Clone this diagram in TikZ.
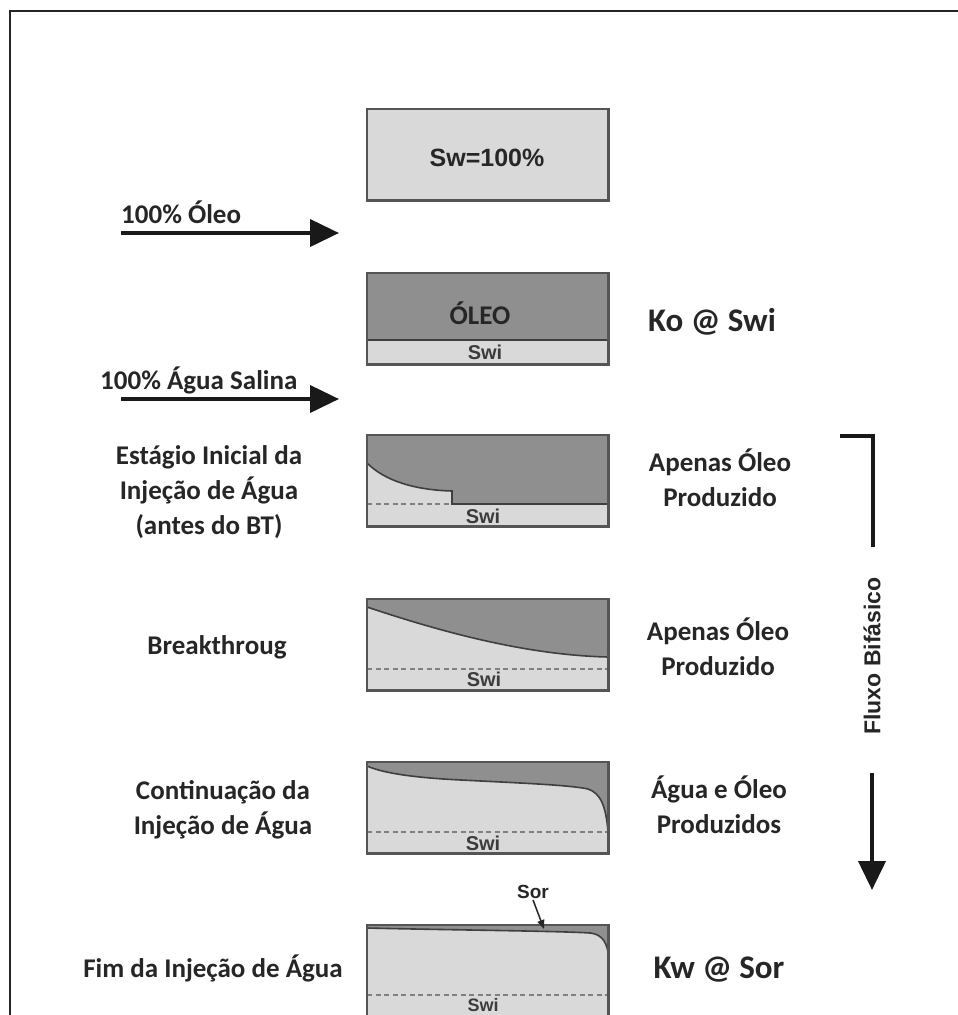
\documentclass[tikz,border=0pt]{standalone}
\usepackage{fontspec}
\setmainfont{Carlito}
\newfontfamily\arialf{Liberation Sans}
\usetikzlibrary{arrows.meta}
\definecolor{lightfill}{HTML}{D9D9D9}
\definecolor{oilfill}{HTML}{8F8F8F}
\definecolor{edgegray}{HTML}{555555}
\definecolor{ifacecol}{HTML}{3F3F3F}
\definecolor{txt}{HTML}{262626}
\begin{document}
\begin{tikzpicture}[x=1pt,y=-1pt,
  corebox/.style={fill=lightfill,draw=none,minimum width=241pt,minimum height=91pt,inner sep=0pt,anchor=north west},
  border/.style={draw=edgegray,line width=2.5pt},
  iface/.style={draw=ifacecol,line width=1.6pt},
  oil/.style={fill=oilfill},
  swidash/.style={draw=black!50,line width=2pt,dash pattern=on 5pt off 3.5pt},
  lab/.style={font=\fontsize{27}{35}\selectfont\bfseries,text=txt,align=center,inner sep=0pt},
  big/.style={font=\fontsize{33}{40}\selectfont\bfseries,text=txt,inner sep=0pt},
  swi/.style={font=\arialf\fontsize{20}{22}\selectfont\bfseries,text=txt!90,inner sep=0pt},
  flow/.style={-{Triangle[length=29pt,width=27pt]},line width=4pt,draw=black!90},
]
\clip (0,0) rectangle (958,1015);
\useasboundingbox (0,0) rectangle (958,1015);
\fill[white] (0,0) rectangle (958,1015);
% frame
\coordinate (fr1) at (958,11);
\coordinate (fr2) at (10,11);
\coordinate (fr3) at (10,1015);
\draw[line width=2.2pt,draw=black!85] (fr1) -- (fr2) -- (fr3);

% ---- box 1
\node[corebox] (b1) at (367,109) {};
\draw[border] (b1.north west) rectangle (b1.south east);
\node[font=\arialf\fontsize{25}{30}\selectfont\bfseries,text=txt,inner sep=0pt] (t1) at (487,158) {Sw=100\%};

% arrow 1
\coordinate (a1s) at (121,233);
\coordinate (a1e) at (339,233);
\draw[flow] (a1s) -- (a1e);
\node[lab,anchor=west] (l1) at (121,212) {100\% Óleo};

% ---- box 2
\node[corebox] (b2) at (367,273) {};
\fill[oil] (367,273) rectangle (608,340);
\draw[iface] (367,340) -- (608,340);
\draw[border] (b2.north west) rectangle (b2.south east);
\node[lab] (t2) at (480,313) {ÓLEO};
\node[swi] (s2) at (485,352) {Swi};
\node[big] (r2) at (712,322) {Ko @ Swi};

% arrow 2
\coordinate (a2s) at (121,399);
\coordinate (a2e) at (339,399);
\draw[flow] (a2s) -- (a2e);
\node[lab,anchor=west] (l2) at (100,380) {100\% Água Salina};

% ---- box 3
\node[corebox] (b3) at (367,435) {};
\fill[oil] (367,435) -- (608,435) -- (608,504) -- (452,504) -- (452,491)
  .. controls (415,490) and (385,481) .. (367,463) -- cycle;
\draw[swidash] (367,504) -- (452,504);
\draw[iface] (367,463) .. controls (385,481) and (415,490) .. (452,491) -- (452,504) -- (608,504);
\draw[border] (b3.north west) rectangle (b3.south east);
\node[swi] (s3) at (483,516) {Swi};
\node[lab] (ll3) at (209,492) {Estágio Inicial da\\Injeção de Água\\(antes do BT)};
\node[lab] (r3) at (720,478) {Apenas Óleo\\Produzido};

% ---- box 4
\node[corebox] (b4) at (367,599) {};
\fill[oil] (367,599) -- (608,599) -- (608,657)
  .. controls (520,655) and (430,628) .. (367,607) -- cycle;
\draw[iface] (367,607) .. controls (430,628) and (520,655) .. (608,657);
\draw[swidash] (367,669) -- (608,669);
\draw[border] (b4.north west) rectangle (b4.south east);
\node[swi] (s4) at (484,679) {Swi};
\node[lab] (ll4) at (217,647) {Breakthroug};
\node[lab] (r4) at (718,647) {Apenas Óleo\\Produzido};

% ---- box 5
\node[corebox] (b5) at (367,762) {};
\fill[oil] (367,762) -- (608,762) -- (608,832)
  .. controls (606,805) and (600,793) .. (588,789)
  .. controls (570,785) and (520,783) .. (461,780)
  .. controls (420,778) and (385,774) .. (367,766) -- cycle;
\draw[iface] (367,766) .. controls (385,774) and (420,778) .. (461,780)
  .. controls (520,783) and (570,785) .. (588,789)
  .. controls (600,793) and (606,805) .. (608,832);
\draw[swidash] (367,832) -- (608,832);
\draw[border] (b5.north west) rectangle (b5.south east);
\node[swi] (s5) at (483,843) {Swi};
\node[lab] (ll5) at (223,810) {Continuação da\\Injeção de Água};
\node[lab] (r5) at (719,805) {Água e Óleo\\Produzidos};

% ---- box 6
\node[corebox,minimum height=100pt] (b6) at (367,925) {};
\fill[oil] (367,925) -- (608,925) -- (608,952)
  .. controls (606,940) and (600,934) .. (590,933)
  .. controls (560,931) and (450,930) .. (367,928) -- cycle;
\draw[iface] (367,928) .. controls (450,930) and (560,931) .. (590,933)
  .. controls (600,934) and (606,940) .. (608,952);
\draw[swidash] (367,995) -- (608,995);
\draw[border] (b6.north west) rectangle (b6.south east);
\node[swi,font=\arialf\fontsize{18}{20}\selectfont\bfseries] (s6) at (483,1005) {Swi};
\node[lab] (ll6) at (213,968) {Fim da Injeção de Água};
\node[big] (r6) at (719,970) {Kw @ Sor};

% Sor marker
\node[font=\arialf\fontsize{19}{22}\selectfont\bfseries,text=txt,inner sep=1pt] (sor) at (533,892) {Sor};
\coordinate (sorend) at (544,929);
\draw[-{Triangle[length=9pt,width=7pt]},line width=1.5pt,draw=txt] (sor.south) -- (sorend);

% two-phase bracket and arrow
\coordinate (br1) at (840,436);
\coordinate (br2) at (873,436);
\coordinate (br3) at (873,547);
\draw[line width=4pt,draw=black!90] (br1) -- (br2) -- (br3);
\node[rotate=90,font=\arialf\fontsize{23}{26}\selectfont\bfseries,text=txt,inner sep=0pt] (fb) at (872,656) {Fluxo Bifásico};
\coordinate (d1) at (872,773);
\coordinate (d2) at (872,890);
\draw[flow] (d1) -- (d2);
\end{tikzpicture}
\end{document}
